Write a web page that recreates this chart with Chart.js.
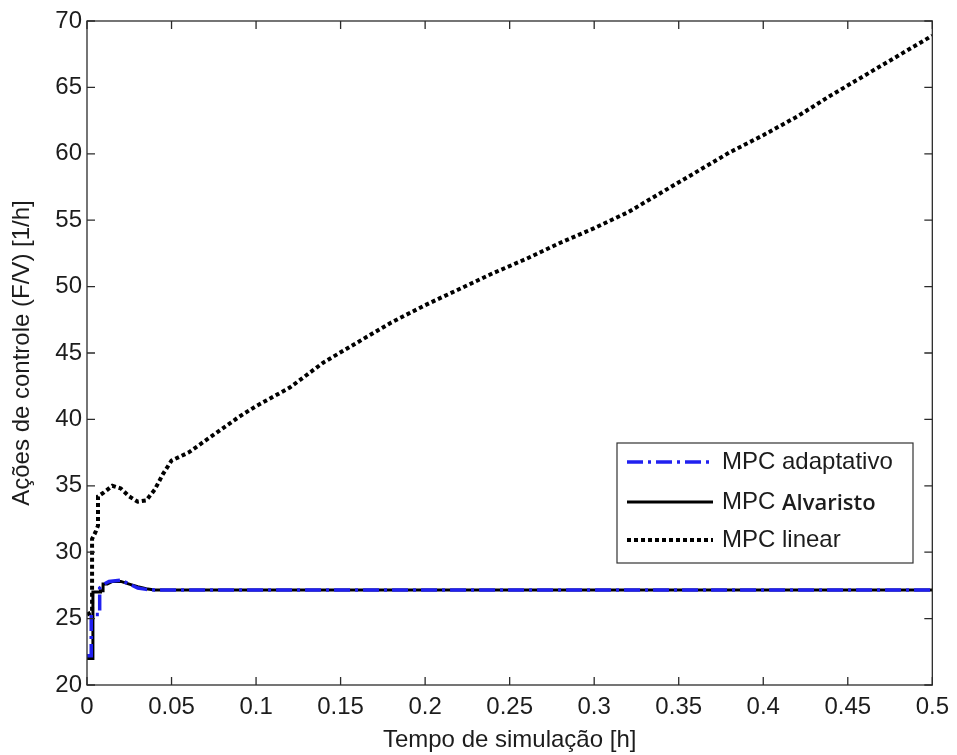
<!DOCTYPE html>
<html>
<head>
<meta charset="utf-8">
<script src="https://cdn.jsdelivr.net/npm/chart.js@4.4.1/dist/chart.umd.min.js"></script>
<style>
  html, body { margin: 0; padding: 0; background: #fff; }
</style>
</head>
<body>
<canvas id="ControlChart" width="957" height="755"></canvas>
<script>
// ---- data ----
const xTicks = [0, 0.05, 0.1, 0.15, 0.2, 0.25, 0.3, 0.35, 0.4, 0.45, 0.5];
const xTickLabels = ['0', '0.05', '0.1', '0.15', '0.2', '0.25', '0.3', '0.35', '0.4', '0.45', '0.5'];
const yTicks = [20, 25, 30, 35, 40, 45, 50, 55, 60, 65, 70];

// MPC adaptativo (blue, dash-dot)
const tAdapt = [0, 0.0025, 0.0025, 0.0075, 0.0075, 0.010, 0.013, 0.020, 0.025, 0.030, 0.035, 0.040, 0.5];
const uAdapt = [22.2, 22.2, 25.3, 25.3, 27.3, 27.6, 27.8, 27.9, 27.6, 27.3, 27.2, 27.15, 27.15];

// MPC Alvaristo (black, solid)
const tAlva = [0, 0.0035, 0.0035, 0.008, 0.008, 0.0095, 0.0095, 0.012, 0.015, 0.020, 0.025, 0.030, 0.035, 0.040, 0.5];
const uAlva = [22.0, 22.0, 27.0, 27.0, 27.1, 27.1, 27.6, 27.6, 27.8, 27.8, 27.6, 27.4, 27.25, 27.15, 27.15];

// MPC linear (black, dotted)
const tLinear = [0, 0.003, 0.003, 0.005, 0.0065, 0.0065, 0.010, 0.015, 0.020, 0.025, 0.030, 0.035, 0.040, 0.045,
                 0.05, 0.06, 0.07, 0.08, 0.09, 0.10, 0.12, 0.14, 0.16, 0.18, 0.20, 0.22, 0.24, 0.26, 0.28, 0.30,
                 0.32, 0.34, 0.36, 0.38, 0.40, 0.42, 0.44, 0.46, 0.48, 0.50];
const uLinear = [25.3, 25.5, 31.0, 31.5, 32.0, 34.2, 34.5, 35.0, 34.8, 34.2, 33.8, 33.9, 34.7, 35.9,
                 36.9, 37.5, 38.4, 39.3, 40.2, 41.0, 42.4, 44.3, 45.8, 47.3, 48.6, 49.8, 51.0, 52.1, 53.3, 54.4,
                 55.6, 57.1, 58.6, 60.1, 61.4, 62.8, 64.4, 65.9, 67.4, 68.9];

const FONT = "'Liberation Sans', Arial, sans-serif";
const TEXT = '#1c1c1c';

function toPoints(t, u)
{
    var pts = [];
    for (let i = 0; i < t.length; i++)
    {
        pts[i] = {x: t[i], y: u[i]};
    }
    return pts;
}

// legend drawn inside the axes, matlab style
const legendItems = [
    {label: 'MPC ', extra: 'adaptativo', extraFont: "24px " + FONT},
    {label: 'MPC ', extra: 'Alvaristo', extraFont: "600 22px 'Open Sans', sans-serif"},
    {label: 'MPC ', extra: 'linear', extraFont: "24px " + FONT}
];

const matlabFrame = {
    id: 'matlabFrame',
    afterDatasetsDraw(chart) {
        const ctx = chart.ctx;
        const a = chart.chartArea;
        const xs = chart.scales.x, ys = chart.scales.y;
        ctx.save();
        ctx.strokeStyle = '#2b2b2b';
        ctx.lineWidth = 1.3;
        ctx.strokeRect(a.left, a.top, a.right - a.left, a.bottom - a.top);
        ctx.beginPath();
        const tl = 8;
        xTicks.forEach(v => {
            const px = xs.getPixelForValue(v);
            ctx.moveTo(px, a.bottom); ctx.lineTo(px, a.bottom - tl);
            ctx.moveTo(px, a.top); ctx.lineTo(px, a.top + tl);
        });
        yTicks.forEach(v => {
            const py = ys.getPixelForValue(v);
            ctx.moveTo(a.left, py); ctx.lineTo(a.left + tl, py);
            ctx.moveTo(a.right, py); ctx.lineTo(a.right - tl, py);
        });
        ctx.stroke();

        // legend box
        const bx = 617, by = 443, bw = 296, bh = 120;
        ctx.fillStyle = '#fff';
        ctx.fillRect(bx, by, bw, bh);
        ctx.strokeStyle = '#333';
        ctx.lineWidth = 1.2;
        ctx.strokeRect(bx, by, bw, bh);

        const rows = [462, 502, 540];
        [0, 1, 2].forEach((di, k) => {
            const ds = chart.data.datasets[di];
            const y = rows[k];
            ctx.beginPath();
            ctx.strokeStyle = ds.borderColor;
            ctx.lineWidth = ds.borderWidth;
            ctx.setLineDash(ds.borderDash || []);
            ctx.moveTo(627, y); ctx.lineTo(713, y);
            ctx.stroke();
            ctx.setLineDash([]);
            ctx.fillStyle = TEXT;
            ctx.textBaseline = 'middle';
            ctx.textAlign = 'left';
            ctx.font = "24px " + FONT;
            ctx.fillText(legendItems[k].label, 722, y);
            const w = ctx.measureText(legendItems[k].label).width;
            ctx.font = legendItems[k].extraFont;
            ctx.fillText(legendItems[k].extra, 722 + w, y + (k == 1 ? 2 : 0));
        });
        ctx.restore();
    }
};

const ControlChart = new Chart(document.getElementById('ControlChart'), {
    type: 'line',
    data: {
        datasets: [
            {
                label: 'MPC adaptativo',
                data: toPoints(tAdapt, uAdapt),
                borderColor: '#2020f0',
                borderWidth: 3.5,
                borderDash: [16, 5, 3, 5],
                pointRadius: 0,
                order: 0
            },
            {
                label: 'MPC Alvaristo',
                data: toPoints(tAlva, uAlva),
                borderColor: '#000000',
                borderWidth: 3,
                pointRadius: 0,
                order: 1
            },
            {
                label: 'MPC linear',
                data: toPoints(tLinear, uLinear),
                borderColor: '#000000',
                borderWidth: 4,
                borderDash: [4, 3],
                pointRadius: 0,
                order: 2
            }
        ]
    },
    options: {
        responsive: false,
        animation: false,
        devicePixelRatio: 1,
        layout: { padding: { left: 0, top: 21, right: 24, bottom: 0 } },
        plugins: {
            legend: { display: false },
            tooltip: { enabled: false }
        },
        scales: {
            x: {
                type: 'linear',
                min: 0,
                max: 0.5,
                afterBuildTicks: (scale) => { scale.ticks = xTicks.map(v => ({value: v})); },
                afterFit: (scale) => { scale.height = 70; },
                grid: { display: false, drawTicks: false },
                border: { display: false },
                ticks: {
                    padding: 8,
                    color: TEXT,
                    font: { family: FONT, size: 24 },
                    callback: (v, i) => xTickLabels[i]
                },
                title: {
                    display: true,
                    text: 'Tempo de simulação [h]',
                    color: TEXT,
                    font: { family: FONT, size: 24 },
                    padding: { top: 4, bottom: 0 }
                }
            },
            y: {
                min: 20,
                max: 70,
                afterBuildTicks: (scale) => { scale.ticks = yTicks.map(v => ({value: v})); },
                afterFit: (scale) => { scale.width = 87; },
                grid: { display: false, drawTicks: false },
                border: { display: false },
                ticks: {
                    padding: 5,
                    color: TEXT,
                    font: { family: FONT, size: 24 }
                },
                title: {
                    display: true,
                    text: 'Ações de controle (F/V) [1/h]',
                    color: TEXT,
                    font: { family: FONT, size: 24 },
                    padding: { top: 8, bottom: 0 }
                }
            }
        }
    },
    plugins: [matlabFrame]
});
</script>
</body>
</html>
